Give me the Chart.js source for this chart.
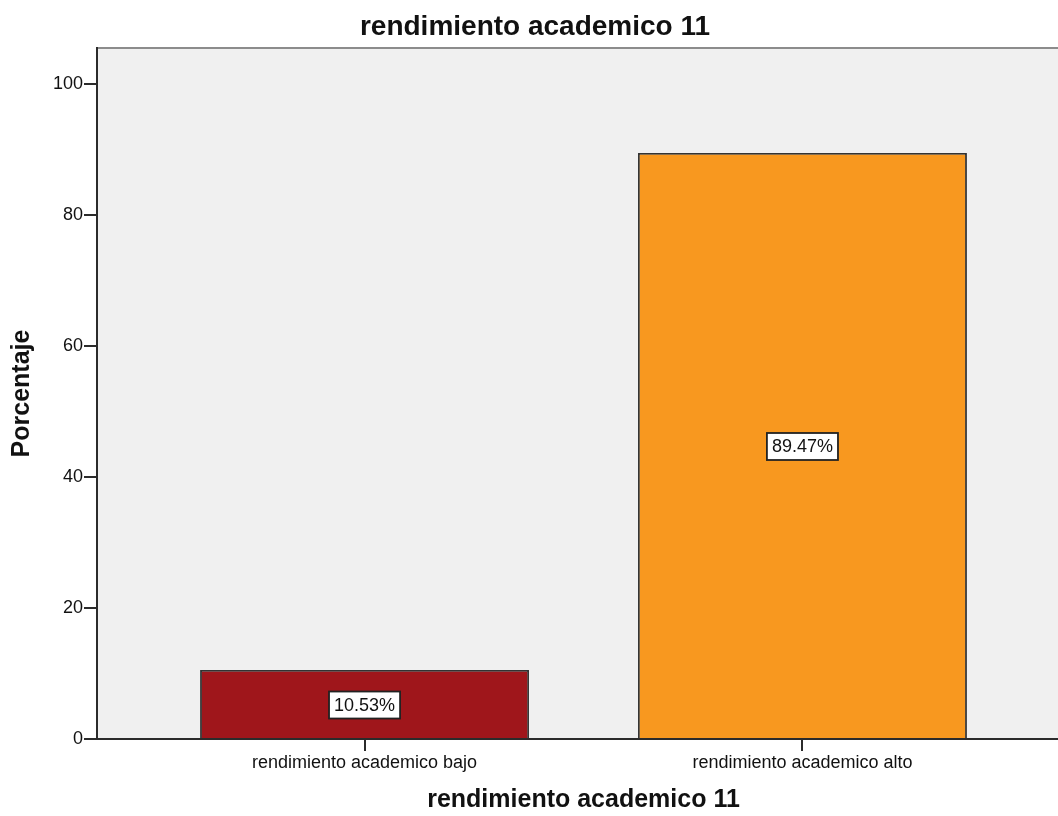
<!DOCTYPE html>
<html>
<head>
<meta charset="utf-8">
<script src="https://cdn.jsdelivr.net/npm/chart.js@4.4.3/dist/chart.umd.min.js"></script>
<style>
    html, body { margin: 0; padding: 0; background: #ffffff; overflow: hidden; }
    #wrap { width: 1072px; height: 816px; position: relative; }
</style>
</head>
<body>
<div id="wrap"><canvas id="chart"></canvas></div>
<script>
// data
const categories = ['rendimiento academico bajo', 'rendimiento academico alto'];
const percentages = [10.53, 89.47];
const barColors = ['#9f161b', '#f8981f'];
const yTicks = [0, 20, 40, 60, 80, 100];

const FONT = '"Liberation Sans", Arial, sans-serif';
const INK = '#2b2b2b';

// grey plot background + light top frame line
const plotFrame = {
    id: 'plotFrame',
    beforeDraw(chart) {
        const {ctx, chartArea: a} = chart;
        ctx.save();
        ctx.fillStyle = '#f0f0f0';
        ctx.fillRect(a.left, a.top, a.right - a.left, a.bottom - a.top);
        ctx.strokeStyle = '#8c8c8c';
        ctx.lineWidth = 2;
        ctx.beginPath();
        ctx.moveTo(a.left, a.top);
        ctx.lineTo(a.right, a.top);
        ctx.stroke();
        ctx.restore();
    }
};

// boxed percentage in the middle of each bar
const boxLabels = {
    id: 'boxLabels',
    afterDatasetsDraw(chart) {
        const {ctx} = chart;
        const meta = chart.getDatasetMeta(0);
        ctx.save();
        ctx.font = '18px ' + FONT;
        ctx.textAlign = 'center';
        ctx.textBaseline = 'middle';
        meta.data.forEach((bar, i) => {
            const text = percentages[i].toFixed(2) + '%';
            const cx = bar.x;
            const cy = (bar.y + bar.base) / 2 + 1;
            const w = ctx.measureText(text).width + 10;
            const h = 27;
            ctx.fillStyle = '#ffffff';
            ctx.fillRect(cx - w / 2, cy - h / 2, w, h);
            ctx.strokeStyle = '#222222';
            ctx.lineWidth = 1.8;
            ctx.strokeRect(cx - w / 2, cy - h / 2, w, h);
            ctx.fillStyle = '#111111';
            ctx.fillText(text, cx, cy + 1);
        });
        ctx.restore();
    }
};

new Chart(document.getElementById('chart'), {
    type: 'bar',
    data: {
        datasets: [{
            data: categories.map((c, i) => ({x: i + 1, y: percentages[i]})),
            backgroundColor: barColors,
            borderColor: '#333333',
            borderWidth: 1.8,
            categoryPercentage: 1.0,
            barPercentage: 0.751
        }]
    },
    options: {
        responsive: true,
        maintainAspectRatio: false,
        animation: false,
        layout: { padding: { left: 0, right: 2, top: 0, bottom: 0 } },
        plugins: {
            legend: { display: false },
            tooltip: { enabled: false },
            title: {
                display: true,
                text: 'rendimiento academico 11',
                color: '#111111',
                font: { family: FONT, size: 28, weight: 'bold' },
                padding: { top: 10, bottom: 4.4 }
            }
        },
        scales: {
            x: {
                type: 'linear',
                offset: false,
                min: 0.389,
                max: 2.611,
                afterBuildTicks(scale) {
                    scale.ticks = categories.map((c, i) => ({value: i + 1}));
                },
                afterFit(scale) { scale.height = 77; },
                ticks: {
                    color: '#111111',
                    font: { family: FONT, size: 18 },
                    padding: 1,
                    maxRotation: 0,
                    autoSkip: false,
                    callback: (v) => categories[v - 1]
                },
                grid: { offset: false, drawOnChartArea: false, drawTicks: true, tickLength: 12, color: INK, lineWidth: 2 },
                border: { display: true, color: INK, width: 2 },
                title: {
                    display: true,
                    text: 'rendimiento academico 11',
                    color: '#111111',
                    font: { family: FONT, size: 25, weight: 'bold' },
                    padding: { top: 0, bottom: 1 }
                }
            },
            y: {
                min: 0,
                max: 105.5,
                afterBuildTicks(scale) {
                    scale.ticks = yTicks.map(v => ({value: v}));
                },
                afterFit(scale) { scale.width = 97; },
                ticks: {
                    color: '#111111',
                    font: { family: FONT, size: 18 },
                    padding: 1
                },
                grid: { drawOnChartArea: false, drawTicks: true, tickLength: 13, color: INK, lineWidth: 2 },
                border: { display: true, color: INK, width: 2 },
                title: {
                    display: true,
                    text: 'Porcentaje',
                    color: '#111111',
                    font: { family: FONT, size: 25, weight: 'bold' },
                    padding: { top: 7, bottom: 0 }
                }
            }
        }
    },
    plugins: [plotFrame, boxLabels]
});
</script>
</body>
</html>
